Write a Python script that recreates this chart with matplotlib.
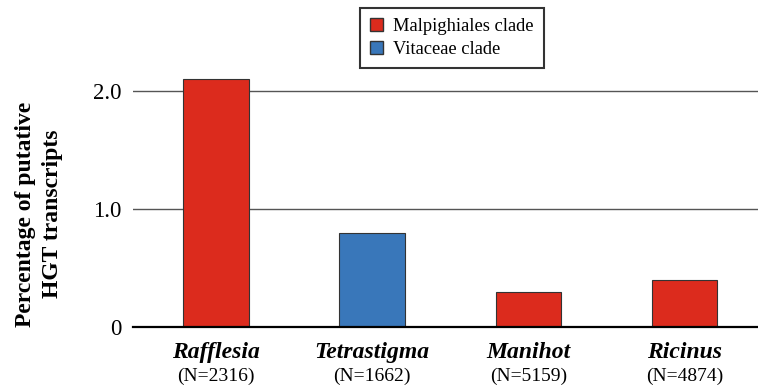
import matplotlib
matplotlib.use('Agg')
import matplotlib.pyplot as plt
from matplotlib.patches import Patch

plt.rcParams['font.family'] = ['Liberation Serif', 'DejaVu Serif']

# data
species = ['Rafflesia', 'Tetrastigma', 'Manihot', 'Ricinus']
counts = ['(N=2316)', '(N=1662)', '(N=5159)', '(N=4874)']
percent = [2.1, 0.8, 0.3, 0.4]
clade = ['Malpighiales', 'Vitaceae', 'Malpighiales', 'Malpighiales']

colors = {'Malpighiales': '#DC2B1D', 'Vitaceae': '#3977BA'}

fig = plt.figure(figsize=(7.58, 3.92), dpi=100)
ax = fig.add_axes([0.1755, 0.166, 0.8245, 0.662])

xs = range(len(species))
ax.bar(xs, percent, width=0.42, color=[colors[c] for c in clade],
       edgecolor='#333333', linewidth=0.8, zorder=3)

ax.set_xlim(-0.53, 3.47)
ax.set_ylim(0, 2.2)
ax.set_yticks([0, 1.0, 2.0])
ax.set_yticklabels(['0', '1.0', '2.0'], fontsize=16.5)
ax.yaxis.grid(True, color='#555555', linewidth=1.0, zorder=0)
ax.tick_params(axis='y', length=0, pad=8)
ax.set_xticks([])
for s in ['top', 'right', 'left']:
    ax.spines[s].set_visible(False)
ax.spines['bottom'].set_linewidth(1.6)
ax.spines['bottom'].set_zorder(4)

# y label sits a bit lower than the axes centre in the reference
fig.text(39 / 758, 1 - 214 / 392, 'Percentage of putative\nHGT transcripts',
         rotation=90, ha='center', va='center', fontsize=17,
         fontweight='bold', linespacing=1.38, multialignment='center')

trans = ax.get_xaxis_transform()
for i, (name, n) in enumerate(zip(species, counts)):
    ax.text(i, -0.098, name, transform=trans, ha='center', va='center',
            fontsize=17, fontweight='bold', fontstyle='italic')
    ax.text(i, -0.19, n, transform=trans, ha='center', va='center',
            fontsize=14)

handles = [Patch(facecolor=colors['Malpighiales'], edgecolor='#333333', label='Malpighiales clade'),
           Patch(facecolor=colors['Vitaceae'], edgecolor='#333333', label='Vitaceae clade')]
leg = fig.legend(handles=handles, loc='upper left', bbox_to_anchor=(360 / 758, 1 - 8 / 392),
                 fontsize=13.3, frameon=True, fancybox=False, handlelength=0.7,
                 handleheight=0.7, handletextpad=0.55, borderpad=0.55,
                 labelspacing=0.32, borderaxespad=0)
leg.get_frame().set_edgecolor('black')
leg.get_frame().set_linewidth(1.5)

fig.savefig('out.png', dpi=100)
